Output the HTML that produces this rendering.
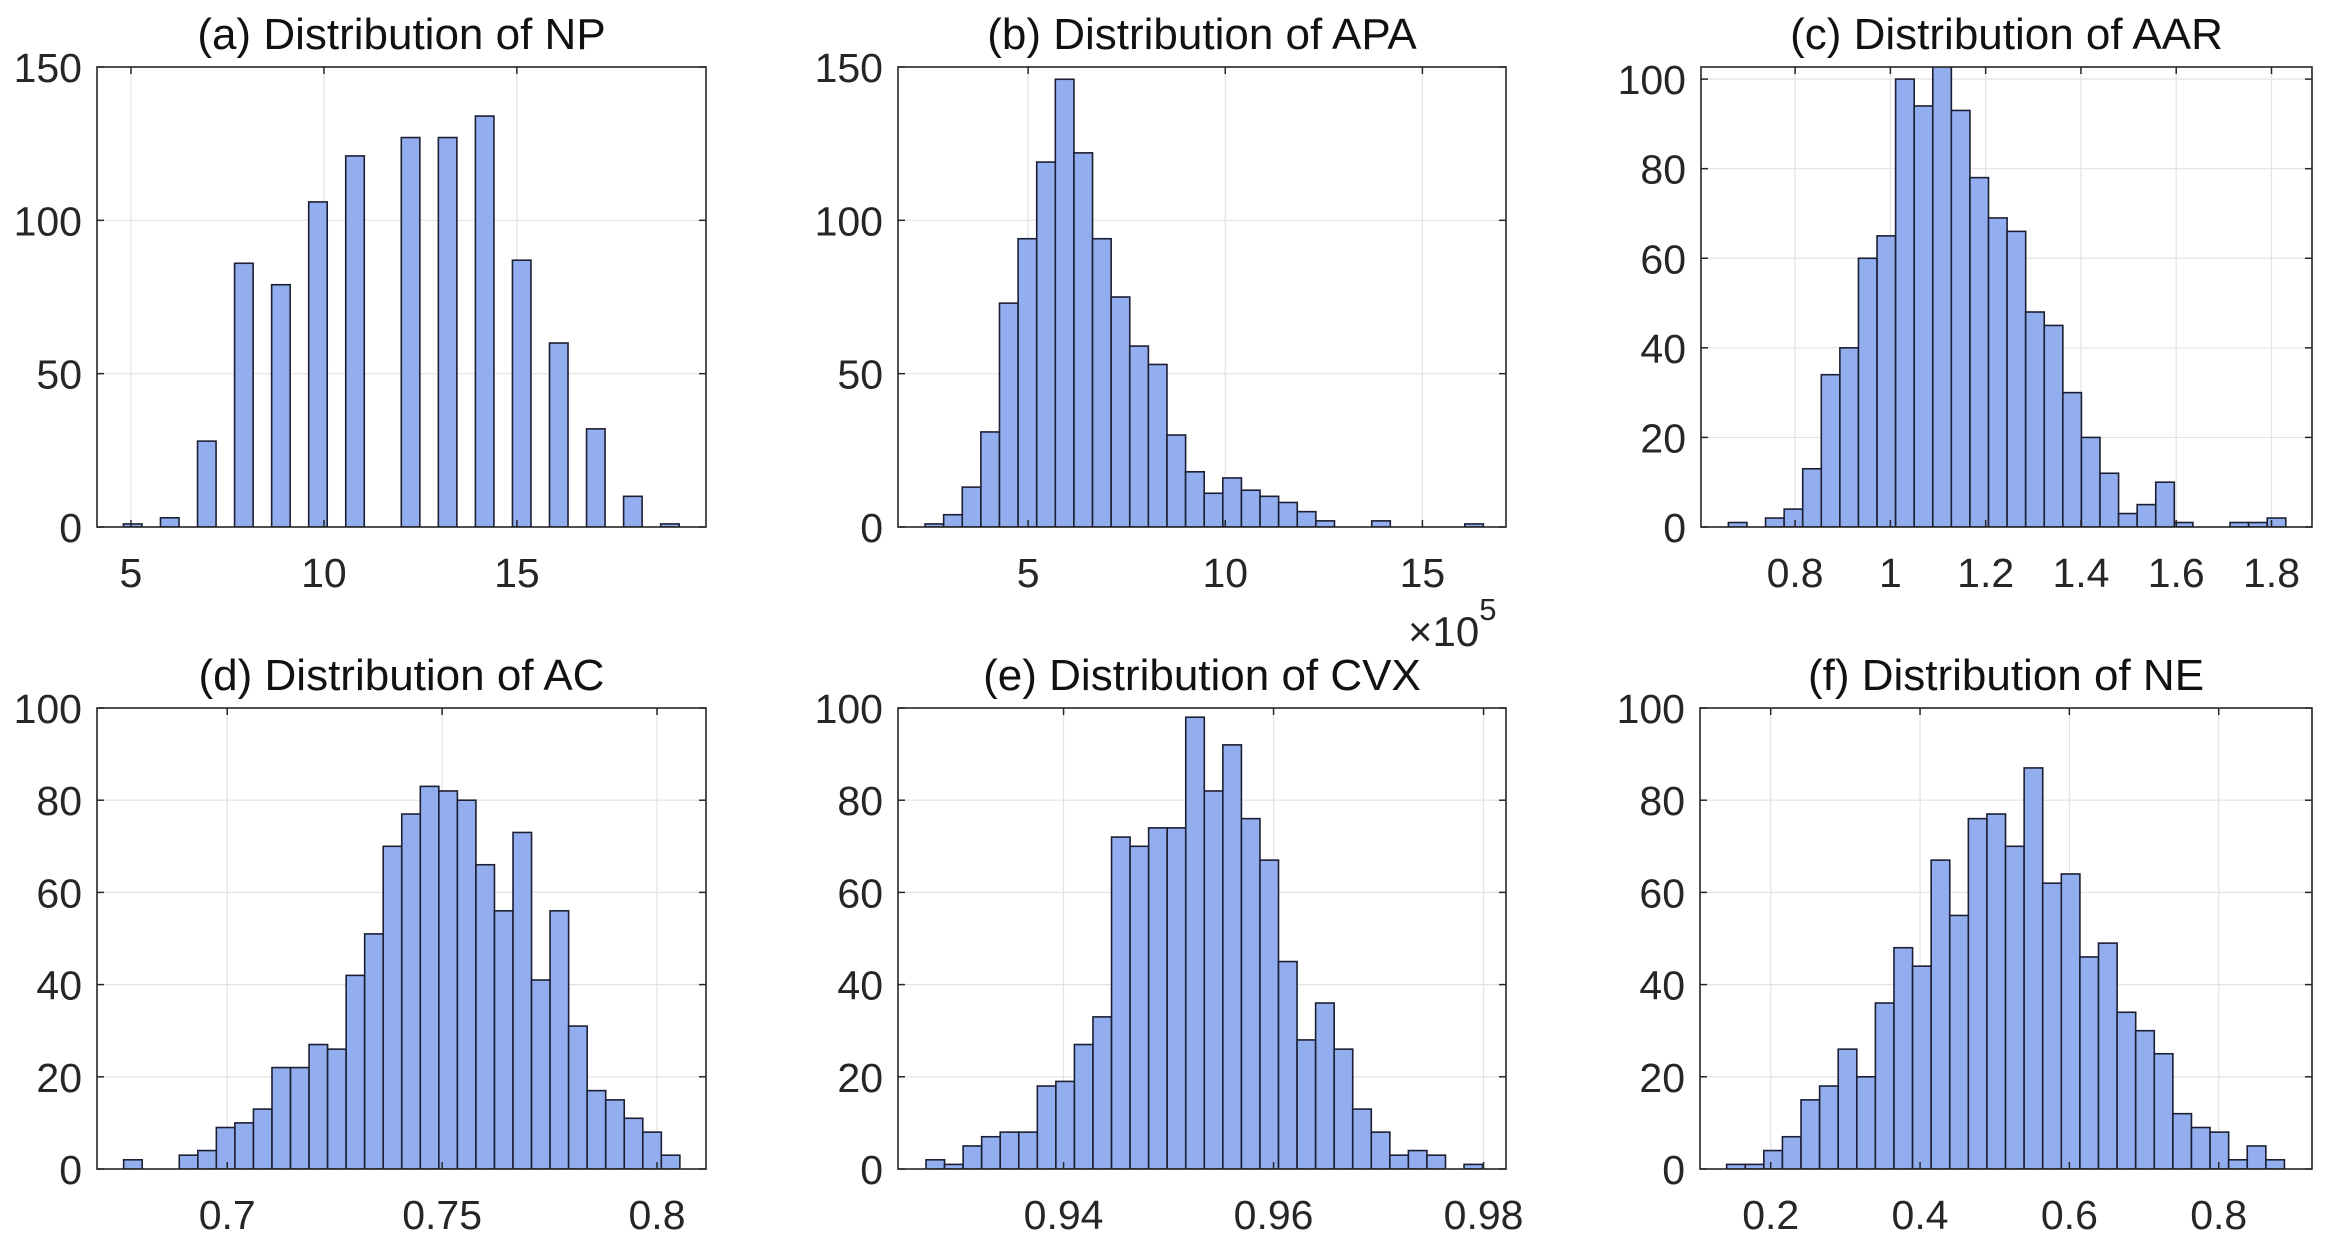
<!DOCTYPE html>
<html><head><meta charset="utf-8">
<style>
html,body{margin:0;padding:0;background:#fff;}
svg{display:block;font-family:"Liberation Sans",Arial,sans-serif;}
</style></head>
<body>
<svg id="fig" width="2330" height="1238" viewBox="0 0 2330 1238" xmlns="http://www.w3.org/2000/svg">
<text x="1408" y="646" font-size="42" fill="#262626">×10<tspan font-size="31" dy="-26">5</tspan></text>
</svg>
<script>
// ---- data ----
const titles = ["(a) Distribution of NP","(b) Distribution of APA","(c) Distribution of AAR","(d) Distribution of AC","(e) Distribution of CVX","(f) Distribution of NE"];
const countsNP  = [1,0,3,0,28,0,86,0,79,0,106,0,121,0,0,127,0,127,0,134,0,87,0,60,0,32,0,10,0,1];
const countsAPA = [1,4,13,31,73,94,119,146,122,94,75,59,53,30,18,11,16,12,10,8,5,2,0,0,2,0,0,0,0,1];
const countsAAR = [1,0,2,4,13,34,40,60,65,100,94,104,93,78,69,66,48,45,30,20,12,3,5,10,1,0,0,1,1,2];
const countsAC  = [2,0,0,3,4,9,10,13,22,22,27,26,42,51,70,77,83,82,80,66,56,73,41,56,31,17,15,11,8,3];
const countsCVX = [2,1,5,7,8,8,18,19,27,33,72,70,74,74,98,82,92,76,67,45,28,36,26,13,8,3,4,3,0,1];
const countsNE  = [1,1,4,7,15,18,26,20,36,48,44,67,55,76,77,70,87,62,64,46,49,34,30,25,12,9,8,2,5,2];
const binStarts = [4.805, 2.386, 0.660, 0.6759, 0.9269, 0.141];
const binWidths = [0.48, 0.472, 0.039, 0.004314, 0.001767, 0.0249];
const xTicksNP  = [5,10,15];
const xTicksAPA = [5,10,15];
const xTicksAAR = [0.8,1,1.2,1.4,1.6,1.8];
const xTicksAC  = [0.7,0.75,0.8];
const xTicksCVX = [0.94,0.96,0.98];
const xTicksNE  = [0.2,0.4,0.6,0.8];
const yTicksTop = [0,50,100,150];
const yTicksAAR = [0,20,40,60,80,100];
const yTicksBot = [0,20,40,60,80,100];

// ---- layout (pixel geometry, not data) ----
const panels = [
 {name:"np",  counts:countsNP,  xt:xTicksNP,  yt:yTicksTop, L:97,   R:706,  T:67,  B:527,  xmin:4.12, xmax:19.9,  ymax:150},
 {name:"apa", counts:countsAPA, xt:xTicksAPA, yt:yTicksTop, L:898,  R:1506, T:67,  B:527,  xmin:1.70, xmax:17.12, ymax:150},
 {name:"aar", counts:countsAAR, xt:xTicksAAR, yt:yTicksAAR, L:1701, R:2312, T:67,  B:527,  xmin:0.6025,xmax:1.885, ymax:102.7},
 {name:"ac",  counts:countsAC,  xt:xTicksAC,  yt:yTicksBot, L:97,   R:706,  T:708, B:1169, xmin:0.6697,xmax:0.8114,ymax:100},
 {name:"cvx", counts:countsCVX, xt:xTicksCVX, yt:yTicksBot, L:898,  R:1506, T:708, B:1169, xmin:0.92690-(926-898)/10500, xmax:0.92690+(1506-926)/10500, ymax:100},
 {name:"ne",  counts:countsNE,  xt:xTicksNE,  yt:yTicksBot, L:1700, R:2312, T:708, B:1169, xmin:0.2-(1770.7-1700)/746.7, xmax:0.2+(2312-1770.7)/746.7, ymax:100}
];
const NS="http://www.w3.org/2000/svg";
const svg=document.getElementById('fig');
function mk(tag,attrs,parent){const e=document.createElementNS(NS,tag);for(const k in attrs)e.setAttribute(k,attrs[k]);(parent||svg).appendChild(e);return e;}
function fmt(v){return String(+v.toFixed(4));}

panels.forEach((p,i)=>{
  const g=mk('g',{});
  
  
  const sx=v=>p.L+(v-p.xmin)/(p.xmax-p.xmin)*(p.R-p.L);
  const sy=v=>p.B-v/p.ymax*(p.B-p.T);
  p.xt.forEach(t=>{const l=mk('line',{x1:sx(t),x2:sx(t),y1:p.T,y2:p.B,stroke:'#e3e3e3','stroke-width':1.2},g);
    
    });
  p.yt.forEach(t=>{const l=mk('line',{x1:p.L,x2:p.R,y1:sy(t),y2:sy(t),stroke:'#e3e3e3','stroke-width':1.2},g);
    
    });
  const cp=mk('clipPath',{id:'clip'+i},g);
  mk('rect',{x:p.L,y:p.T,width:p.R-p.L,height:p.B-p.T},cp);
  const bars=mk('g',{'clip-path':'url(#clip'+i+')'},g);
  
  
  const s=binStarts[i], w=binWidths[i];
  p.counts.forEach((c,k)=>{
    if(c<=0) return;
    const x0=sx(s+k*w), x1=sx(s+(k+1)*w), y=sy(c);
    const r=mk('rect',{x:x0,y:y,width:x1-x0,height:p.B-y,fill:'#93aeef',stroke:'#1c1f33','stroke-width':1.6},bars);
    
    
  });
  const box=mk('rect',{x:p.L,y:p.T,width:p.R-p.L,height:p.B-p.T,fill:'none',stroke:'#262626','stroke-width':1.6},g);
  
  
  p.xt.forEach(t=>{const x=sx(t);
    mk('line',{x1:x,x2:x,y1:p.B,y2:p.B-7,stroke:'#262626','stroke-width':1.5},g);
    mk('line',{x1:x,x2:x,y1:p.T,y2:p.T+7,stroke:'#262626','stroke-width':1.5},g);
    const tx=mk('text',{x:x,y:p.B+60,'font-size':41,fill:'#262626','text-anchor':'middle'},g);
    tx.textContent=fmt(t);
    
    });
  p.yt.forEach(t=>{const y=sy(t);
    mk('line',{x1:p.L,x2:p.L+7,y1:y,y2:y,stroke:'#262626','stroke-width':1.5},g);
    mk('line',{x1:p.R,x2:p.R-7,y1:y,y2:y,stroke:'#262626','stroke-width':1.5},g);
    const tx=mk('text',{x:p.L-15,y:y+15,'font-size':41,fill:'#262626','text-anchor':'end'},g);
    tx.textContent=fmt(t);
    
    });
  const tt=mk('text',{x:(p.L+p.R)/2,y:p.T-18,'font-size':44,fill:'#111','text-anchor':'middle'},g);
  tt.textContent=titles[i];
  
  
});
</script>
</body></html>
